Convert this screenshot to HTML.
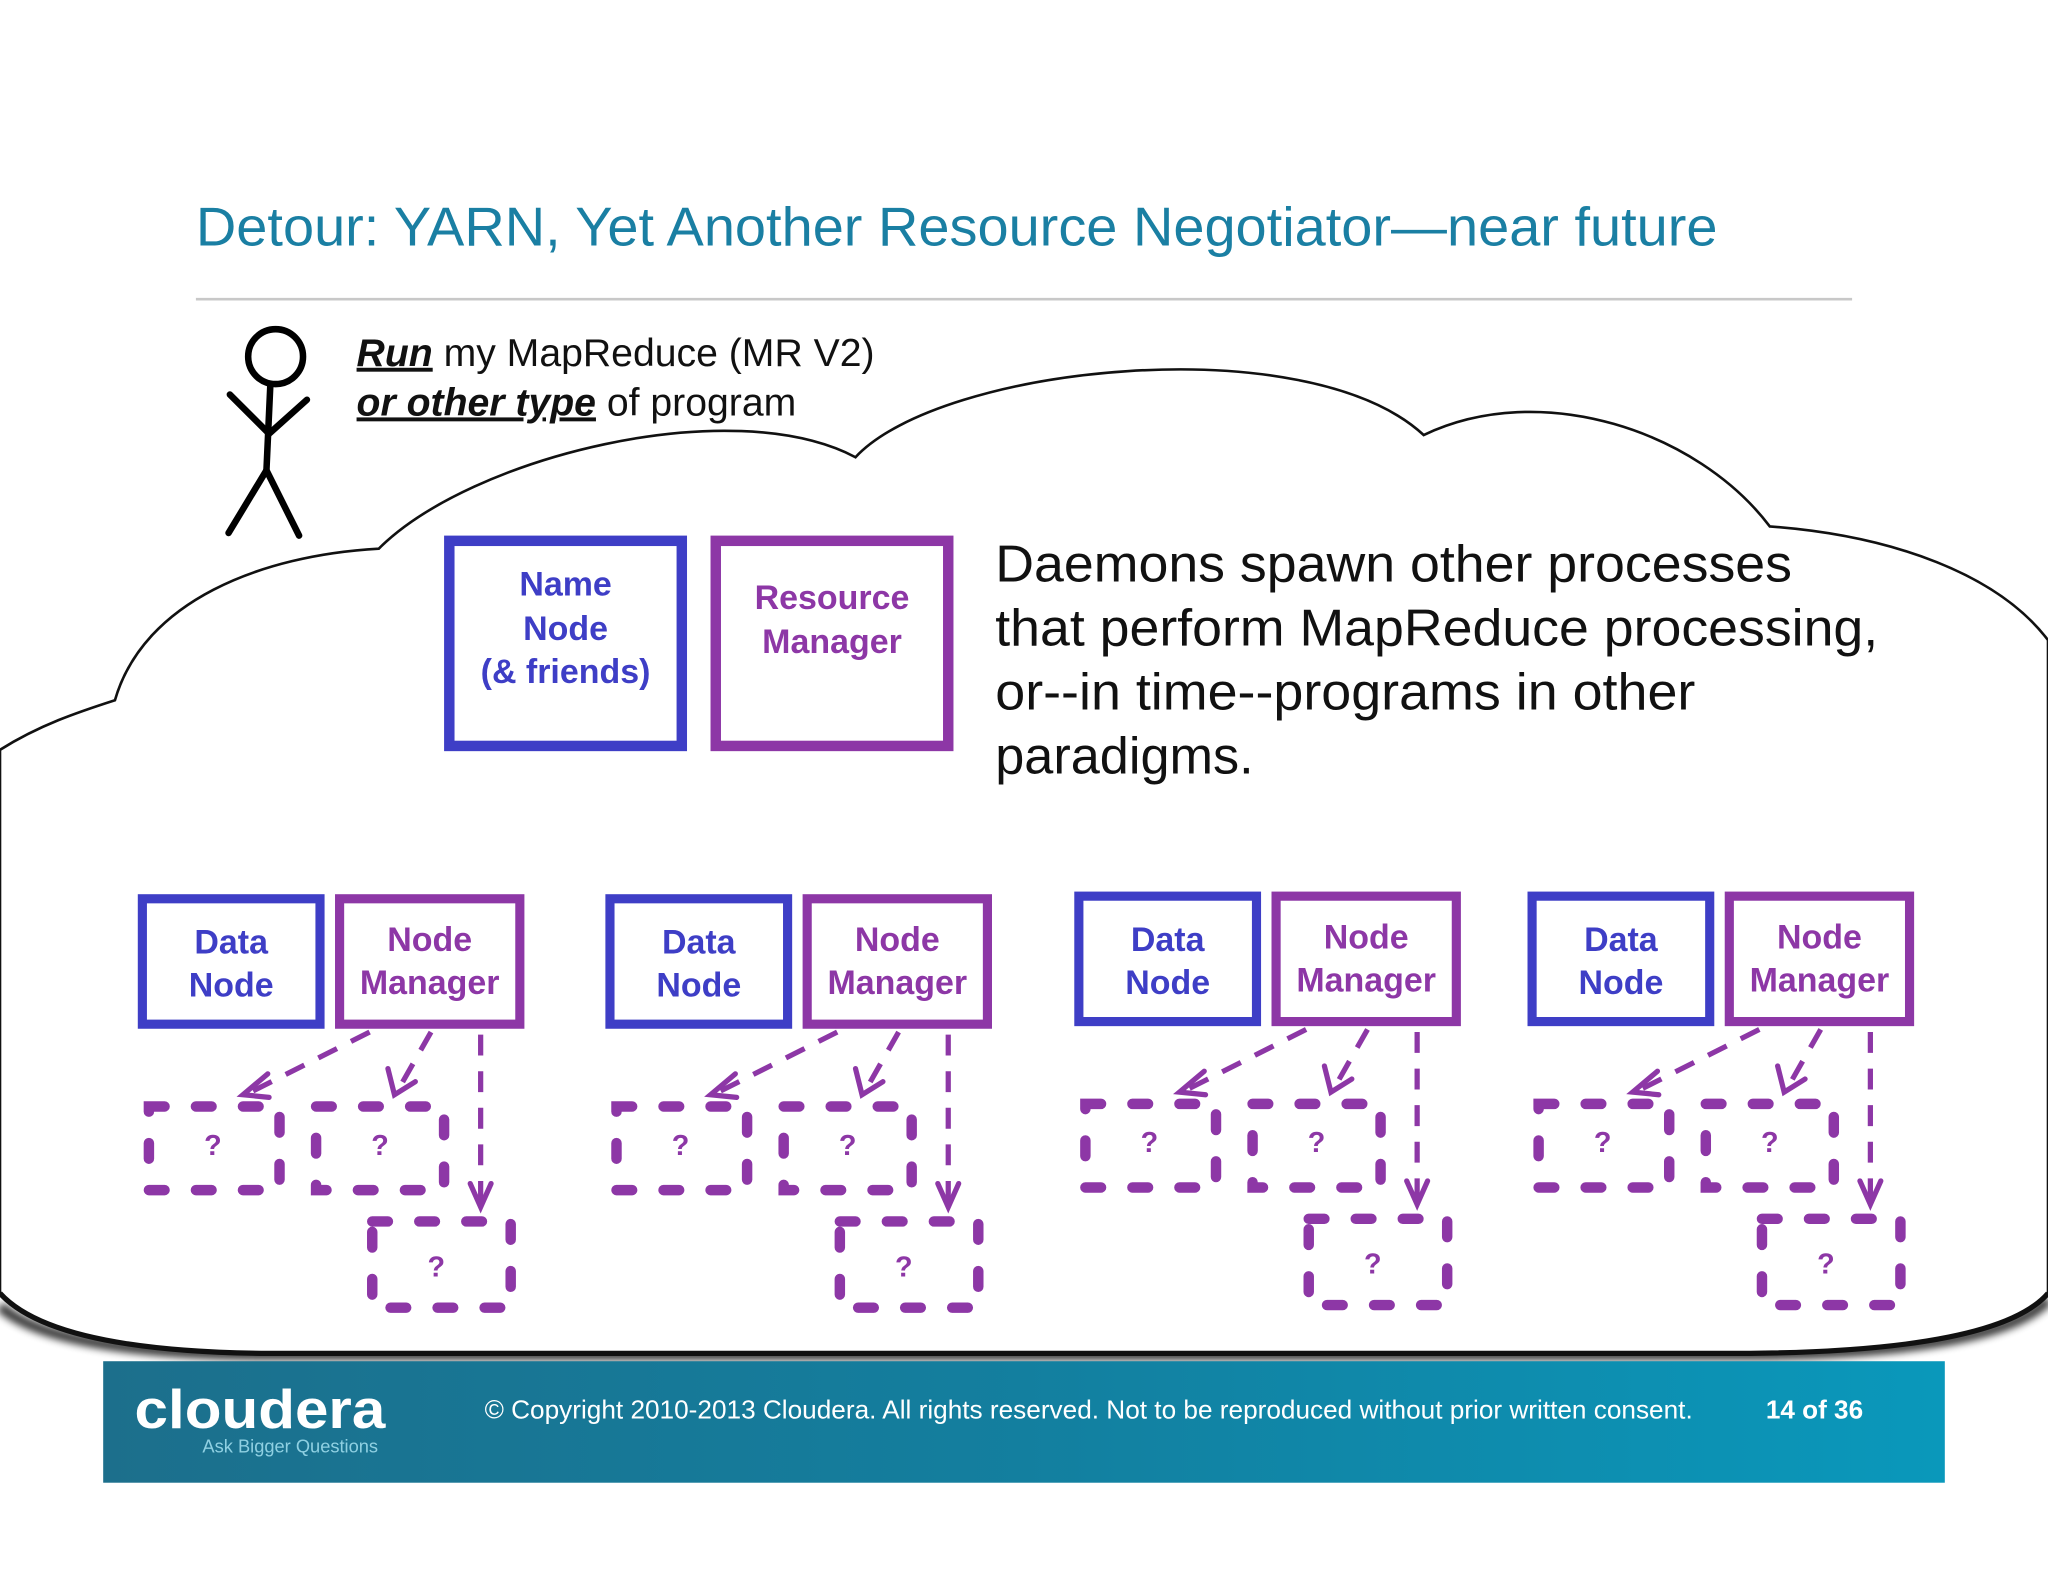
<!DOCTYPE html>
<html><head><meta charset="utf-8"><style>
html,body{margin:0;padding:0;background:#fff;}
svg{display:block;}
</style></head><body>
<svg width="2048" height="1582" viewBox="0 0 1568 1211" preserveAspectRatio="none" xmlns="http://www.w3.org/2000/svg" font-family="Liberation Sans, sans-serif">
<defs>
<linearGradient id="ft" x1="0" y1="0" x2="1" y2="0">
<stop offset="0" stop-color="#1c6f8c"/><stop offset="0.5" stop-color="#137f9f"/><stop offset="1" stop-color="#0a98bb"/>
</linearGradient>
<filter id="blur" x="-5%" y="-50%" width="110%" height="200%"><feGaussianBlur stdDeviation="3"/></filter>
<g id="cl">
<rect x="109" y="688" width="136" height="96" fill="#fff" stroke="#3e3ec6" stroke-width="7"/>
<rect x="260" y="688" width="138" height="96" fill="#fff" stroke="#8d37a6" stroke-width="7"/>
<text x="177" y="730" font-size="26" font-weight="bold" fill="#3e3ec6" text-anchor="middle">Data</text>
<text x="177" y="763" font-size="26" font-weight="bold" fill="#3e3ec6" text-anchor="middle">Node</text>
<text x="329" y="728" font-size="26" font-weight="bold" fill="#8d37a6" text-anchor="middle">Node</text>
<text x="329" y="761" font-size="26" font-weight="bold" fill="#8d37a6" text-anchor="middle">Manager</text>
<g fill="none" stroke="#8d37a6" stroke-width="8" stroke-linecap="round" stroke-dasharray="12 24">
<rect x="114" y="847" width="100" height="64"/>
<rect x="242" y="847" width="98" height="64"/>
<rect x="285" y="935" width="106" height="66"/>
</g>
<g fill="none" stroke="#8d37a6" stroke-width="4" stroke-dasharray="16 12">
<line x1="283" y1="790" x2="192" y2="836"/>
<line x1="330" y1="790" x2="305" y2="834"/>
<line x1="368" y1="792" x2="368" y2="922"/>
</g>
<g fill="none" stroke="#8d37a6" stroke-width="4" stroke-linecap="round">
<polyline points="205,822 186,838 206,840"/>
<polyline points="297,818 302,838 318,828"/>
<polyline points="360,906 368,924 376,906"/>
</g>
<g font-size="22" font-weight="bold" fill="#8d37a6" text-anchor="middle">
<text x="163" y="884">?</text><text x="291" y="884">?</text><text x="334" y="977">?</text>
</g>
</g>
</defs>
<rect width="1568" height="1211" fill="#fff"/>
<text x="150" y="188" font-size="42" fill="#1a7fa3" textLength="1165" lengthAdjust="spacingAndGlyphs">Detour: YARN, Yet Another Resource Negotiator—near future</text>
<line x1="150" y1="229" x2="1418" y2="229" stroke="#c8c8c8" stroke-width="2"/>
<!-- cloud -->
<path d="M0,1000 Q40,1036 200,1037 L1340,1037 Q1530,1036 1568,995" fill="none" stroke="#000" stroke-width="8" filter="url(#blur)" opacity="0.8"/>
<path d="M0,574 C30,555 60,545 88,536 C110,460 200,425 290,420 C360,350 560,300 655,350 C720,280 1000,250 1090,333 C1180,290 1300,330 1355,403 C1450,410 1530,440 1568,490 L1568,990 Q1530,1034 1340,1036 L200,1036 Q40,1034 0,990 Z" fill="#fff" stroke="#111" stroke-width="2"/>
<path d="M0,990 Q40,1034 200,1036 L1340,1036 Q1530,1034 1568,990" fill="none" stroke="#111" stroke-width="4"/>
<!-- stick figure -->
<g fill="none" stroke="#000" stroke-width="5" stroke-linecap="round">
<circle cx="211" cy="273" r="21"/>
<line x1="207" y1="294" x2="204" y2="360"/>
<polyline points="176,302 206,332 235,306"/>
<polyline points="175,408 204,360 229,410"/>
</g>
<g font-size="30" fill="#111">
<text x="273" y="280"><tspan font-weight="bold" font-style="italic" text-decoration="underline">Run</tspan> my MapReduce (MR V2)</text>
<text x="273" y="318"><tspan font-weight="bold" font-style="italic" text-decoration="underline">or other type</tspan> of program</text>
</g>
<rect x="344" y="414" width="178" height="157" fill="#fff" stroke="#3e3ec6" stroke-width="8"/>
<rect x="548" y="414" width="178" height="157" fill="#fff" stroke="#8d37a6" stroke-width="8"/>
<g font-size="26" font-weight="bold" fill="#3e3ec6" text-anchor="middle">
<text x="433" y="456">Name</text><text x="433" y="490">Node</text><text x="433" y="523">(&amp; friends)</text>
</g>
<g font-size="26" font-weight="bold" fill="#8d37a6" text-anchor="middle">
<text x="637" y="466">Resource</text><text x="637" y="500">Manager</text>
</g>
<g font-size="40" fill="#111">
<text x="762" y="445" textLength="610" lengthAdjust="spacingAndGlyphs">Daemons spawn other processes</text>
<text x="762" y="494" textLength="676" lengthAdjust="spacingAndGlyphs">that perform MapReduce processing,</text>
<text x="762" y="543" textLength="536" lengthAdjust="spacingAndGlyphs">or--in time--programs in other</text>
<text x="762" y="592">paradigms.</text>
</g>
<use href="#cl"/>
<use href="#cl" x="358" y="0"/>
<use href="#cl" x="717" y="-2"/>
<use href="#cl" x="1064" y="-2"/>
<!-- footer -->
<rect x="79" y="1042" width="1410" height="93" fill="url(#ft)"/>
<text x="103" y="1093" font-size="42" font-weight="bold" fill="#fff" textLength="192" lengthAdjust="spacingAndGlyphs">cloudera</text>
<text x="155" y="1112" font-size="14" fill="#8fd0e2">Ask Bigger Questions</text>
<text x="371" y="1086" font-size="20" fill="#fff" textLength="925" lengthAdjust="spacingAndGlyphs">© Copyright 2010-2013 Cloudera. All rights reserved. Not to be reproduced without prior written consent.</text>
<text x="1352" y="1086" font-size="20" font-weight="bold" fill="#fff">14 of 36</text>
</svg>
</body></html>
